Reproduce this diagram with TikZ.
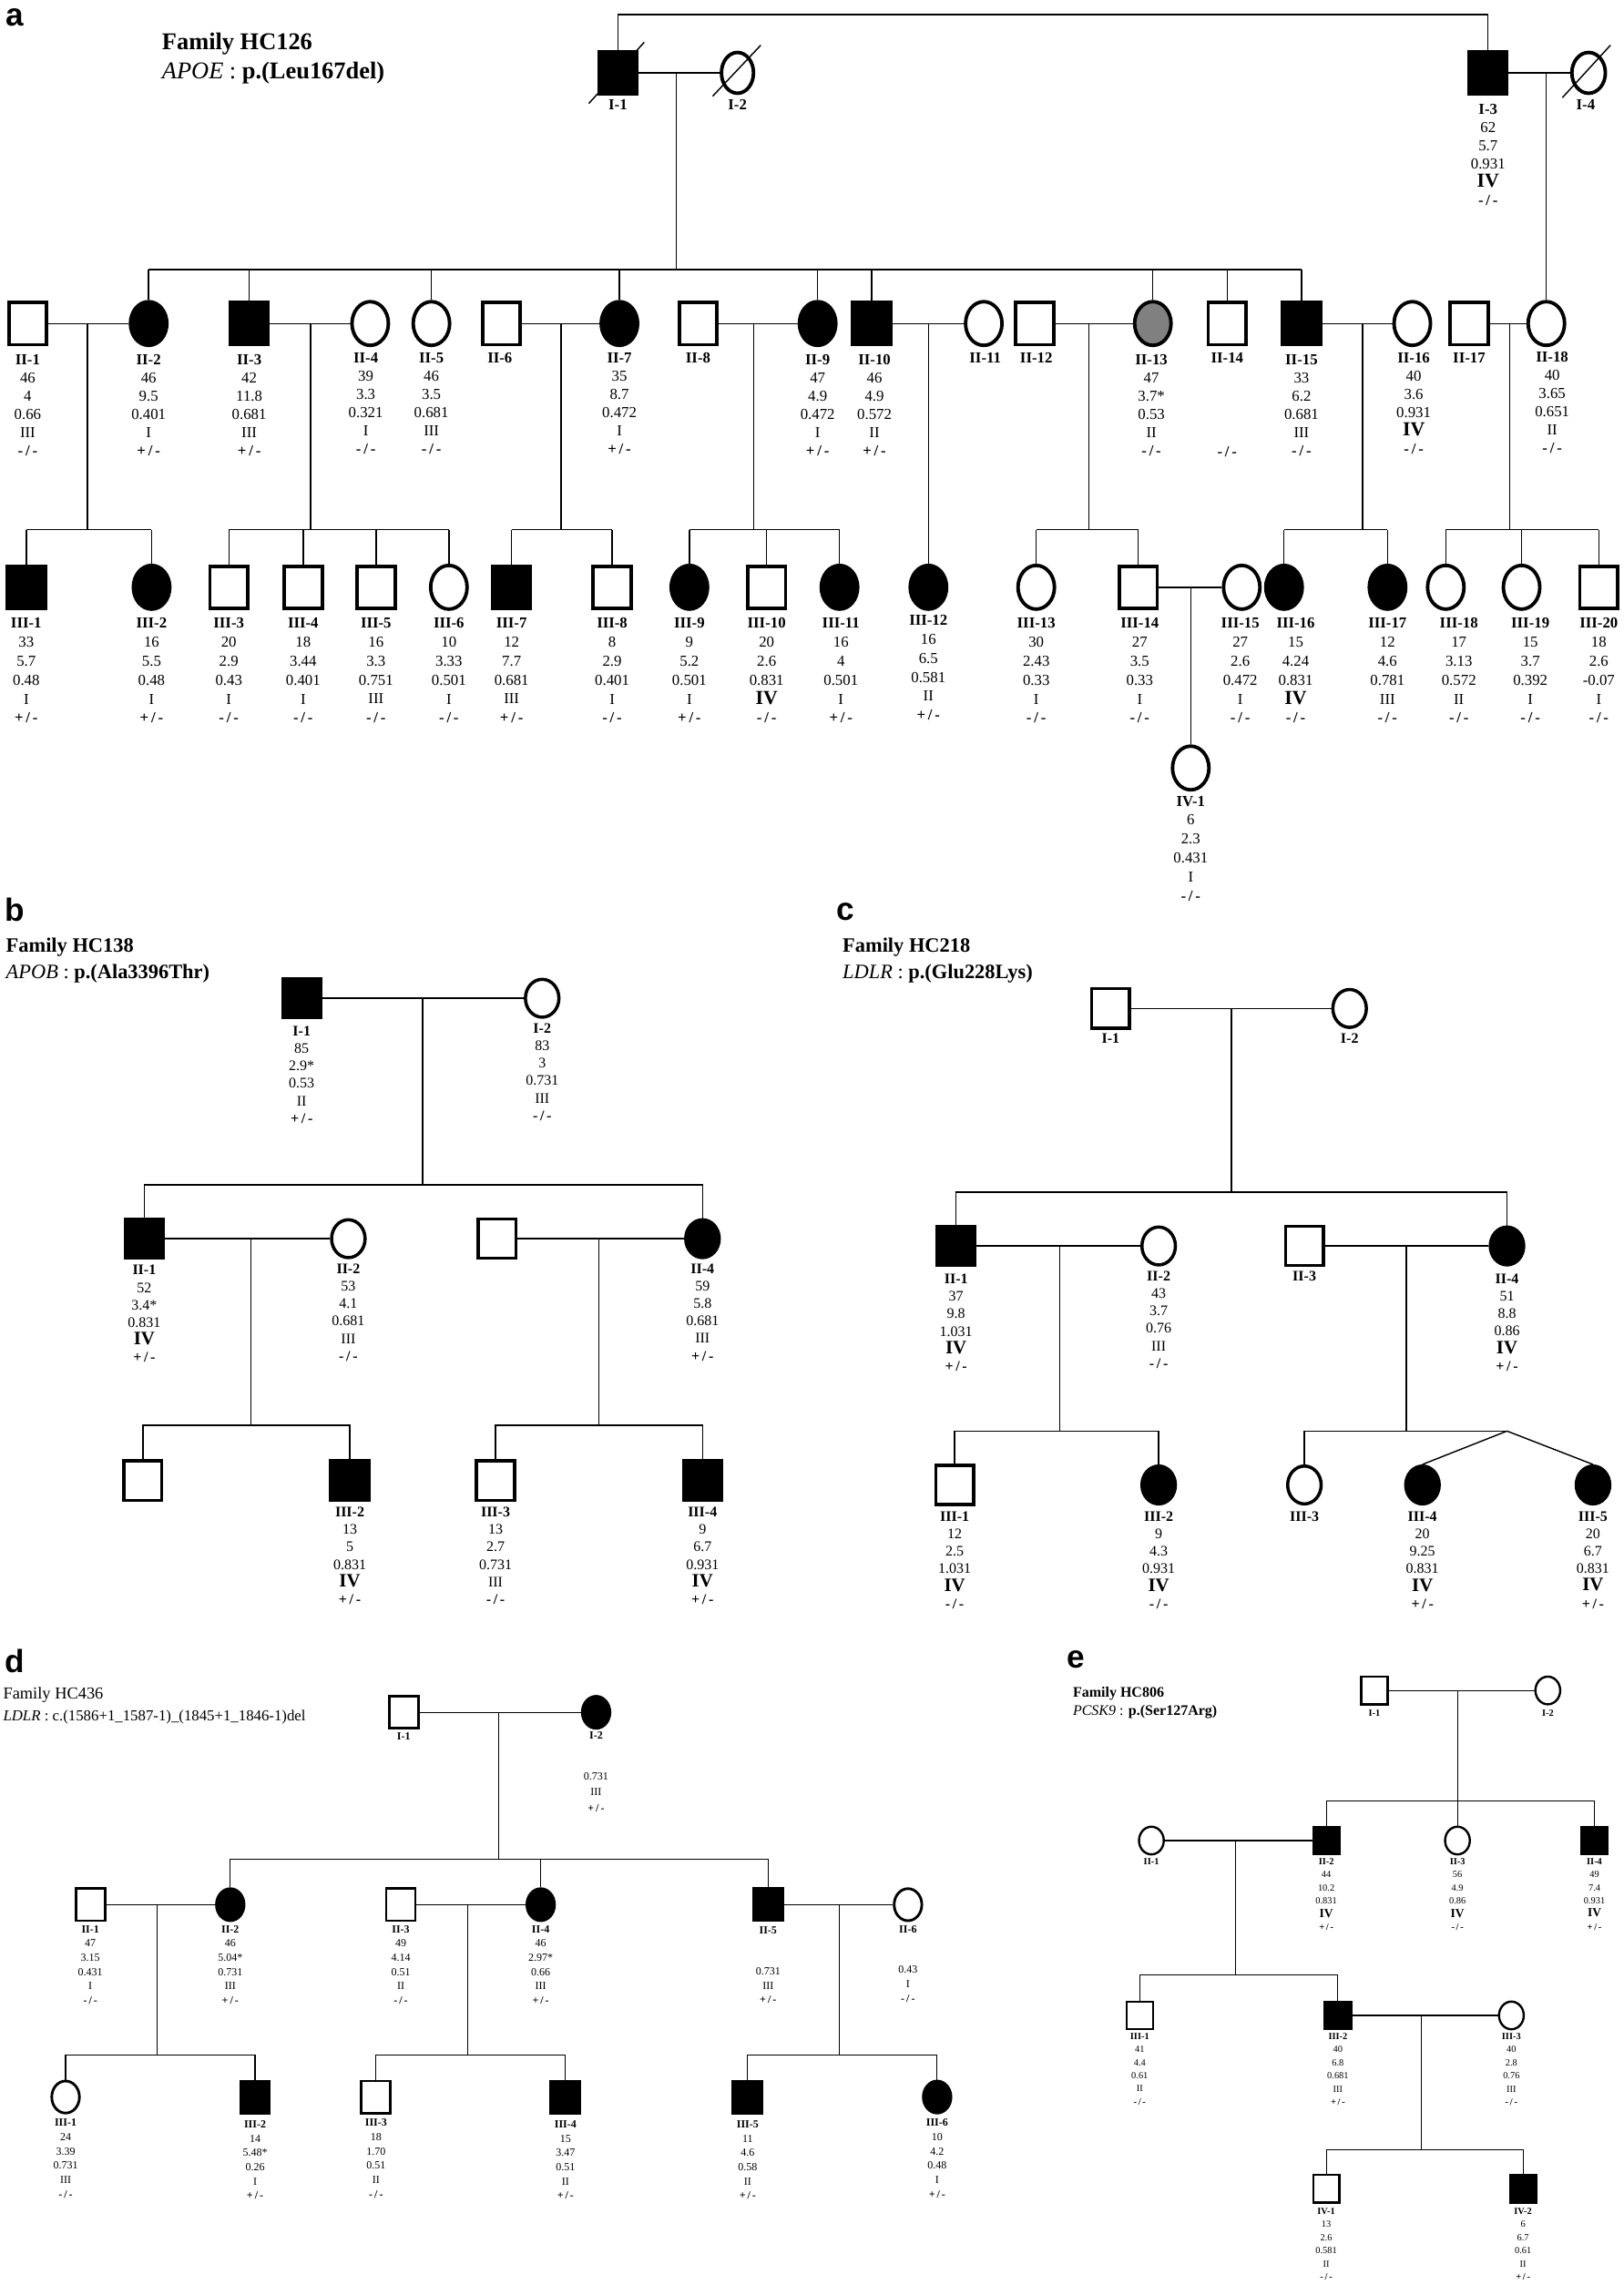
\documentclass[tikz,border=0pt]{standalone}
\usepackage{fontspec}
\setmainfont{Liberation Serif}
\newfontfamily\lettf{Liberation Sans}
\usetikzlibrary{shapes.geometric,calc}
\newcommand\lb[1]{\textbf{#1}}
\newcommand\RIV{\scalebox{1.3}{\textbf{IV}}}
\newcommand\PM{\textbf{+\,/\,-}}
\newcommand\MM{\textbf{-\,/\,-}}
\tikzset{
 ln/.style={line width=0.9pt},
 lnt/.style={line width=0.7pt},
 aff/.style={fill=black},
 sqA/.style={draw,rectangle,minimum width=26,minimum height=29,inner sep=0,line width=2.4pt},
 ciA/.style={draw,ellipse,minimum width=25,minimum height=30,inner sep=0,line width=2.4pt},
 sqB/.style={draw,rectangle,minimum width=26,minimum height=27,inner sep=0,line width=2.2pt},
 ciB/.style={draw,ellipse,minimum width=23,minimum height=26,inner sep=0,line width=2.2pt},
 sqD/.style={draw,rectangle,minimum width=20,minimum height=22,inner sep=0,line width=1.8pt},
 ciD/.style={draw,ellipse,minimum width=19,minimum height=22,inner sep=0,line width=1.8pt},
 sqE/.style={draw,rectangle,minimum width=18,minimum height=19,inner sep=0,line width=1.5pt},
 ciE/.style={draw,ellipse,minimum width=17,minimum height=19,inner sep=0,line width=1.5pt},
 tA/.style={align=center,anchor=north,inner sep=0,font=\fontsize{10.5}{12.5}\selectfont},
 tA3/.style={align=center,anchor=north,inner sep=0,font=\fontsize{10.5}{13}\selectfont},
 tB/.style={align=center,anchor=north,inner sep=0,font=\fontsize{10}{12}\selectfont},
 tD/.style={align=center,anchor=north,inner sep=0,font=\fontsize{7.5}{9.8}\selectfont},
 tE/.style={align=center,anchor=north,inner sep=0,font=\fontsize{6.5}{9}\selectfont},
 lett/.style={inner sep=0,font=\lettf\bfseries\fontsize{22}{22}\selectfont},
 hd/.style={anchor=west,inner sep=0},
}
\begin{document}
\begin{tikzpicture}[x=1pt,y=-1pt]
\useasboundingbox (0,0) rectangle (1114,1568);
% ================= Panel a =================
\node[lett] (la) at (10,12) {a};
\node[hd,font=\fontsize{16.5}{16}\selectfont\bfseries] (ah1) at (111,30) {Family HC126};
\node[hd,font=\fontsize{16.5}{16}\selectfont] (ah2) at (111,50) {\textit{APOE} : \textbf{p.(Leu167del)}};
% generation I
\node[sqA,aff] (aI1) at (424,50) {};
\node[ciA,minimum width=22,minimum height=28] (aI2) at (506,50) {};
\node[sqA,aff] (aI3) at (1021,50) {};
\node[ciA,minimum width=23,minimum height=28] (aI4) at (1090,50) {};
\draw[ln] ($(aI1)+(-20,21)$) -- ($(aI1)+(18,-21)$);
\draw[ln] ($(aI2)+(-17,16)$) -- ($(aI2)+(16,-19)$);
\draw[ln] ($(aI4)+(-18,17)$) -- ($(aI4)+(15,-19)$);
\coordinate (atop) at (0,10);
\draw[ln] (aI1.north) -- (aI1.north |- atop) -| (aI3.north);
\draw[ln] (aI1.east) -- (aI2.west);
\draw[ln] (aI3.east) -- (aI4.west);
\node[tA] (taI1) at (424,68) {\lb{I-1}};
\node[tA] (taI2) at (506,68) {\lb{I-2}};
\node[tA] (taI3) at (1021,71) {\lb{I-3}\\62\\5.7\\0.931\\\RIV\\\MM};
\node[tA] (taI4) at (1088,68) {\lb{I-4}};
% generation II
\foreach \n/\x/\s/\f in {II1/19/sqA/,II2/102/ciA/aff,II3/171/sqA/aff,II4/254/ciA/,II5/296/ciA/,II6/344/sqA/,II7/425/ciA/aff,II8/479/sqA/,II9/561/ciA/aff,II10/598/sqA/aff,II11/675/ciA/,II12/710/sqA/,II14/842/sqA/,II15/893/sqA/aff,II16/969/ciA/,II17/1008/sqA/,II18/1061/ciA/}
  \node[\s,\f] (a\n) at (\x,222) {};
\node[ciA,fill=black!50] (aII13) at (791,222) {};
\coordinate (asib) at (0,185);
\coordinate (aM1) at (464,50);
\coordinate (aM2) at (1061,50);
\draw[ln] (aM1) -- (aM1 |- asib);
\draw[ln] (aM2) -- (aII18.north);
\draw[ln] (aII2.north |- asib) -- (aII15.north |- asib);
\foreach \n in {II2,II3,II5,II7,II9,II10,II13,II14,II15}
  \draw[ln] (a\n.north) -- (a\n.north |- asib);
\foreach \l/\r in {II1/II2,II3/II4,II6/II7,II8/II9,II10/II11,II12/II13,II15/II16,II17/II18}
  \draw[ln] (a\l.east) -- (a\r.west);
\node[tA] (taII1) at (19,243) {\lb{II-1}\\46\\4\\0.66\\III\\\MM};
\node[tA] (taII2) at (102,243) {\lb{II-2}\\46\\9.5\\0.401\\I\\\PM};
\node[tA] (taII3) at (171,243) {\lb{II-3}\\42\\11.8\\0.681\\III\\\PM};
\node[tA] (taII4) at (251,242) {\lb{II-4}\\39\\3.3\\0.321\\I\\\MM};
\node[tA] (taII5) at (296,242) {\lb{II-5}\\46\\3.5\\0.681\\III\\\MM};
\node[tA] (taII6) at (343,242) {\lb{II-6}};
\node[tA] (taII7) at (425,242) {\lb{II-7}\\35\\8.7\\0.472\\I\\\PM};
\node[tA] (taII8) at (479,242) {\lb{II-8}};
\node[tA] (taII9) at (561,243) {\lb{II-9}\\47\\4.9\\0.472\\I\\\PM};
\node[tA] (taII10) at (600,243) {\lb{II-10}\\46\\4.9\\0.572\\II\\\PM};
\node[tA] (taII11) at (676,242) {\lb{II-11}};
\node[tA] (taII12) at (711,242) {\lb{II-12}};
\node[tA] (taII13) at (790,243) {\lb{II-13}\\47\\3.7*\\0.53\\II\\\MM};
\node[tA] (taII14) at (842,242) {\lb{II-14}};
\node[tA] (taII14g) at (842,306) {\MM};
\node[tA] (taII15) at (893,243) {\lb{II-15}\\33\\6.2\\0.681\\III\\\MM};
\node[tA] (taII16) at (970,242) {\lb{II-16}\\40\\3.6\\0.931\\\RIV\\\MM};
\node[tA] (taII17) at (1008,242) {\lb{II-17}};
\node[tA] (taII18) at (1065,241) {\lb{II-18}\\40\\3.65\\0.651\\II\\\MM};
% generation III
\foreach \n/\x/\s/\f in {III1/18/sqA/aff,III2/104/ciA/aff,III3/157/sqA/,III4/208/sqA/,III5/258/sqA/,III6/308/ciA/,III7/351/sqA/aff,III8/420/sqA/,III9/473/ciA/aff,III10/526/sqA/,III11/576/ciA/aff,III12/637/ciA/aff,III13/711/ciA/,III14/781/sqA/,III15/852/ciA/,III16/881/ciA/aff,III17/952/ciA/aff,III18/992/ciA/,III19/1044/ciA/,III20/1097/sqA/}
  \node[\s,\f] (a\n) at (\x,403) {};
\coordinate (asib3) at (0,363.5);
\foreach \mx/\l/\r in {60/III1/III2,213/III3/III6,385/III7/III8,517/III9/III11,747/III13/III14,935/III16/III17,1036/III18/III20}{
  \draw[ln] (\mx,222) -- (\mx,363.5);
  \draw[ln] (a\l.north |- asib3) -- (a\r.north |- asib3);
}
\foreach \n in {III1,III2,III3,III4,III5,III6,III7,III8,III9,III10,III11,III13,III14,III16,III17,III18,III19,III20}
  \draw[ln] (a\n.north) -- (a\n.north |- asib3);
\coordinate (aM3) at (637,222);
\draw[ln] (aM3) -- (aIII12.north);
\draw[ln] (aIII14.east) -- (aIII15.west);
\coordinate (aM4) at (817,403);
% generation IV
\node[ciA] (aIV1) at (817,527) {};
\draw[ln] (aM4) -- (aIV1.north);
\node[tA3] (taIII1) at (18,424) {\lb{III-1}\\33\\5.7\\0.48\\I\\\PM};
\node[tA3] (taIII2) at (104,424) {\lb{III-2}\\16\\5.5\\0.48\\I\\\PM};
\node[tA3] (taIII3) at (157,424) {\lb{III-3}\\20\\2.9\\0.43\\I\\\MM};
\node[tA3] (taIII4) at (208,424) {\lb{III-4}\\18\\3.44\\0.401\\I\\\MM};
\node[tA3] (taIII5) at (258,424) {\lb{III-5}\\16\\3.3\\0.751\\III\\\MM};
\node[tA3] (taIII6) at (308,424) {\lb{III-6}\\10\\3.33\\0.501\\I\\\MM};
\node[tA3] (taIII7) at (351,424) {\lb{III-7}\\12\\7.7\\0.681\\III\\\PM};
\node[tA3] (taIII8) at (420,424) {\lb{III-8}\\8\\2.9\\0.401\\I\\\MM};
\node[tA3] (taIII9) at (473,424) {\lb{III-9}\\9\\5.2\\0.501\\I\\\PM};
\node[tA3] (taIII10) at (526,424) {\lb{III-10}\\20\\2.6\\0.831\\\RIV\\\MM};
\node[tA3] (taIII11) at (577,424) {\lb{III-11}\\16\\4\\0.501\\I\\\PM};
\node[tA3] (taIII12) at (637,422) {\lb{III-12}\\16\\6.5\\0.581\\II\\\PM};
\node[tA3] (taIII13) at (711,424) {\lb{III-13}\\30\\2.43\\0.33\\I\\\MM};
\node[tA3] (taIII14) at (782,424) {\lb{III-14}\\27\\3.5\\0.33\\I\\\MM};
\node[tA3] (taIII15) at (851,424) {\lb{III-15}\\27\\2.6\\0.472\\I\\\MM};
\node[tA3] (taIII16) at (889,424) {\lb{III-16}\\15\\4.24\\0.831\\\RIV\\\MM};
\node[tA3] (taIII17) at (952,424) {\lb{III-17}\\12\\4.6\\0.781\\III\\\MM};
\node[tA3] (taIII18) at (1001,424) {\lb{III-18}\\17\\3.13\\0.572\\II\\\MM};
\node[tA3] (taIII19) at (1050,424) {\lb{III-19}\\15\\3.7\\0.392\\I\\\MM};
\node[tA3] (taIII20) at (1097,424) {\lb{III-20}\\18\\2.6\\-0.07\\I\\\MM};
\node[tA3] (taIV1) at (817,546) {\lb{IV-1}\\6\\2.3\\0.431\\I\\\MM};
% ================= Panel b =================
\node[lett] (lb) at (10,624) {b};
\node[hd,font=\fontsize{14}{14}\selectfont\bfseries] (bh1) at (4,650) {Family HC138};
\node[hd,font=\fontsize{14}{14}\selectfont] (bh2) at (4,668) {\textit{APOB} : \textbf{p.(Ala3396Thr)}};
\node[sqB,aff] (bI1) at (207,685) {};
\node[ciB] (bI2) at (372,685) {};
\draw[ln] (bI1.east) -- (bI2.west);
\coordinate (bsib) at (0,813);
\coordinate (bM1) at (290,685);
\draw[ln] (bM1) -- (bM1 |- bsib);
\node[sqB,aff] (bII1) at (99,850) {};
\node[ciB] (bII2) at (239,850) {};
\node[sqB] (bII3) at (341,850) {};
\node[ciB,aff] (bII4) at (482,850) {};
\draw[ln] (bII1.north) |- (bII4.north |- bsib) -- (bII4.north);
\draw[ln] (bII1.east) -- (bII2.west);
\draw[ln] (bII3.east) -- (bII4.west);
\coordinate (bsib3) at (0,978);
\coordinate (bM2) at (172,850);
\coordinate (bM3) at (411,850);
\draw[ln] (bM2) -- (bM2 |- bsib3);
\draw[ln] (bM3) -- (bM3 |- bsib3);
\node[sqB] (bIII1) at (98,1016) {};
\node[sqB,aff] (bIII2) at (240,1016) {};
\node[sqB] (bIII3) at (340,1016) {};
\node[sqB,aff] (bIII4) at (482,1016) {};
\draw[ln] (bIII1.north) |- (bIII2.north |- bsib3) -- (bIII2.north);
\draw[ln] (bIII3.north) |- (bIII4.north |- bsib3) -- (bIII4.north);
\node[tB] (tbI1) at (207,704) {\lb{I-1}\\85\\2.9*\\0.53\\II\\\PM};
\node[tB] (tbI2) at (372,702) {\lb{I-2}\\83\\3\\0.731\\III\\\MM};
\node[tB] (tbII1) at (99,868) {\lb{II-1}\\52\\3.4*\\0.831\\\RIV\\\PM};
\node[tB] (tbII2) at (239,867) {\lb{II-2}\\53\\4.1\\0.681\\III\\\MM};
\node[tB] (tbII4) at (482,867) {\lb{II-4}\\59\\5.8\\0.681\\III\\\PM};
\node[tB] (tbIII2) at (240,1034) {\lb{III-2}\\13\\5\\0.831\\\RIV\\\PM};
\node[tB] (tbIII3) at (340,1034) {\lb{III-3}\\13\\2.7\\0.731\\III\\\MM};
\node[tB] (tbIII4) at (482,1034) {\lb{III-4}\\9\\6.7\\0.931\\\RIV\\\PM};
% ================= Panel c =================
\node[lett] (lc) at (580,626) {c};
\node[hd,font=\fontsize{14}{14}\selectfont\bfseries] (ch1) at (578,650) {Family HC218};
\node[hd,font=\fontsize{14}{14}\selectfont] (ch2) at (578,668) {\textit{LDLR} : \textbf{p.(Glu228Lys)}};
\node[sqB] (cI1) at (762,692) {};
\node[ciB] (cI2) at (926,692) {};
\draw[ln] (cI1.east) -- (cI2.west);
\coordinate (csib) at (0,818);
\coordinate (cM1) at (845,692);
\draw[ln] (cM1) -- (cM1 |- csib);
\node[sqB,aff] (cII1) at (656,855) {};
\node[ciB] (cII2) at (795,855) {};
\node[sqB] (cII3) at (895,855) {};
\node[ciB,aff] (cII4) at (1034,855) {};
\draw[ln] (cII1.north) |- (cII4.north |- csib) -- (cII4.north);
\draw[ln] (cII1.east) -- (cII2.west);
\draw[ln] (cII3.east) -- (cII4.west);
\coordinate (csib3) at (0,982);
\coordinate (cM2) at (727,855);
\coordinate (cM3) at (965,855);
\draw[ln] (cM2) -- (cM2 |- csib3);
\draw[ln] (cM3) -- (cM3 |- csib3);
\node[sqB] (cIII1) at (655,1019) {};
\node[ciB,aff] (cIII2) at (795,1019) {};
\node[ciB] (cIII3) at (895,1019) {};
\node[ciB,aff] (cIII4) at (976,1019) {};
\node[ciB,aff] (cIII5) at (1093,1019) {};
\coordinate (ctw) at (1034,982);
\draw[ln] (cIII1.north) |- (cIII2.north |- csib3) -- (cIII2.north);
\draw[ln] (cIII3.north) |- (ctw);
\draw[ln] (ctw) -- (cIII4.north);
\draw[ln] (ctw) -- (cIII5.north);
\node[tB] (tcI1) at (762,709) {\lb{I-1}};
\node[tB] (tcI2) at (926,709) {\lb{I-2}};
\node[tB] (tcII1) at (656,874) {\lb{II-1}\\37\\9.8\\1.031\\\RIV\\\PM};
\node[tB] (tcII2) at (795,872) {\lb{II-2}\\43\\3.7\\0.76\\III\\\MM};
\node[tB] (tcII3) at (895,872) {\lb{II-3}};
\node[tB] (tcII4) at (1034,874) {\lb{II-4}\\51\\8.8\\0.86\\\RIV\\\PM};
\node[tB] (tcIII1) at (655,1037) {\lb{III-1}\\12\\2.5\\1.031\\\RIV\\\MM};
\node[tB] (tcIII2) at (795,1037) {\lb{III-2}\\9\\4.3\\0.931\\\RIV\\\MM};
\node[tB] (tcIII3) at (895,1037) {\lb{III-3}};
\node[tB] (tcIII4) at (976,1037) {\lb{III-4}\\20\\9.25\\0.831\\\RIV\\\PM};
\node[tB] (tcIII5) at (1093,1037) {\lb{III-5}\\20\\6.7\\0.831\\\RIV\\\PM};
% ================= Panel d =================
\node[lett] (ld) at (10,1140) {d};
\node[hd,font=\fontsize{11.5}{11}\selectfont] (dh1) at (2,1163) {Family HC436};
\node[hd,font=\fontsize{10.5}{11}\selectfont] (dh2) at (2,1178) {\textit{LDLR} : c.(1586+1\_1587-1)\_(1845+1\_1846-1)del};
\node[sqD] (dI1) at (277,1175) {};
\node[ciD,aff] (dI2) at (409,1175) {};
\draw[lnt] (dI1.east) -- (dI2.west);
\coordinate (dsib) at (0,1276);
\coordinate (dM1) at (342,1175);
\draw[lnt] (dM1) -- (dM1 |- dsib);
\node[sqD] (dII1) at (62,1307) {};
\node[ciD,aff] (dII2) at (158,1307) {};
\node[sqD] (dII3) at (275,1307) {};
\node[ciD,aff] (dII4) at (371,1307) {};
\node[sqD,aff] (dII5) at (527,1307) {};
\node[ciD] (dII6) at (623,1307) {};
\draw[lnt] (dII2.north) |- (dII5.north |- dsib) -- (dII5.north);
\draw[lnt] (dII4.north) -- (dII4.north |- dsib);
\foreach \l/\r in {II1/II2,II3/II4,II5/II6} \draw[lnt] (d\l.east) -- (d\r.west);
\coordinate (dsib3) at (0,1410);
\foreach \mx in {108,321,576} \draw[lnt] (\mx,1307) -- (\mx,1410);
\node[ciD] (dIII1) at (45,1439) {};
\node[sqD,aff] (dIII2) at (175,1439) {};
\node[sqD] (dIII3) at (258,1439) {};
\node[sqD,aff] (dIII4) at (388,1439) {};
\node[sqD,aff] (dIII5) at (513,1439) {};
\node[ciD,aff] (dIII6) at (643,1439) {};
\foreach \l/\r in {III1/III2,III3/III4,III5/III6}
  \draw[lnt] (d\l.north) |- (d\r.north |- dsib3) -- (d\r.north);
\node[tD] (tdI1) at (277,1189) {\lb{I-1}};
\node[tD] (tdI2) at (409,1188) {\lb{I-2}};
\node[tD,font=\fontsize{7.5}{11}\selectfont] (tdI2b) at (409,1216) {0.731\\III\\\PM};
\node[tD] (tdII1) at (62,1321) {\lb{II-1}\\47\\3.15\\0.431\\I\\\MM};
\node[tD] (tdII2) at (158,1321) {\lb{II-2}\\46\\5.04*\\0.731\\III\\\PM};
\node[tD] (tdII3) at (275,1321) {\lb{II-3}\\49\\4.14\\0.51\\II\\\MM};
\node[tD] (tdII4) at (371,1321) {\lb{II-4}\\46\\2.97*\\0.66\\III\\\PM};
\node[tD] (tdII5) at (527,1322) {\lb{II-5}};
\node[tD] (tdII5b) at (527,1350) {0.731\\III\\\PM};
\node[tD] (tdII6) at (623,1321) {\lb{II-6}};
\node[tD] (tdII6b) at (623,1349) {0.43\\I\\\MM};
\node[tD] (tdIII1) at (45,1454) {\lb{III-1}\\24\\3.39\\0.731\\III\\\MM};
\node[tD] (tdIII2) at (175,1455) {\lb{III-2}\\14\\5.48*\\0.26\\I\\\PM};
\node[tD] (tdIII3) at (258,1454) {\lb{III-3}\\18\\1.70\\0.51\\II\\\MM};
\node[tD] (tdIII4) at (388,1455) {\lb{III-4}\\15\\3.47\\0.51\\II\\\PM};
\node[tD] (tdIII5) at (513,1455) {\lb{III-5}\\11\\4.6\\0.58\\II\\\PM};
\node[tD] (tdIII6) at (643,1454) {\lb{III-6}\\10\\4.2\\0.48\\I\\\PM};
% ================= Panel e =================
\node[lett] (le) at (738,1139) {e};
\node[hd,font=\fontsize{10}{10}\selectfont\bfseries] (eh1) at (736,1162) {Family HC806};
\node[hd,font=\fontsize{10}{10}\selectfont] (eh2) at (736,1175) {\textit{PCSK9} : \textbf{p.(Ser127Arg)}};
\node[sqE] (eI1) at (943,1160) {};
\node[ciE] (eI2) at (1062,1160) {};
\draw[lnt] (eI1.east) -- (eI2.west);
\coordinate (esib) at (0,1236);
\coordinate (eM1) at (1000,1160);
\node[ciE] (eII1) at (790,1263) {};
\node[sqE,aff] (eII2) at (910,1263) {};
\node[ciE] (eII3) at (1000,1263) {};
\node[sqE,aff] (eII4) at (1094,1263) {};
\draw[lnt] (eM1) -- (eII3.north);
\draw[lnt] (eII2.north) |- (eII4.north |- esib) -- (eII4.north);
\draw[lnt] (eII1.east) -- (eII2.west);
\coordinate (esib3) at (0,1355);
\coordinate (eM2) at (848,1263);
\draw[lnt] (eM2) -- (eM2 |- esib3);
\node[sqE] (eIII1) at (782,1383) {};
\node[sqE,aff] (eIII2) at (918,1383) {};
\node[ciE] (eIII3) at (1037,1383) {};
\draw[lnt] (eIII1.north) |- (eIII2.north |- esib3) -- (eIII2.north);
\draw[lnt] (eIII2.east) -- (eIII3.west);
\coordinate (esib4) at (0,1475);
\coordinate (eM3) at (975,1383);
\draw[lnt] (eM3) -- (eM3 |- esib4);
\node[sqE] (eIV1) at (910,1502) {};
\node[sqE,aff] (eIV2) at (1045,1502) {};
\draw[lnt] (eIV1.north) |- (eIV2.north |- esib4) -- (eIV2.north);
\node[tE] (teI1) at (943,1173) {\lb{I-1}};
\node[tE] (teI2) at (1062,1173) {\lb{I-2}};
\node[tE] (teII1) at (790,1275) {\lb{II-1}};
\node[tE] (teII2) at (910,1275) {\lb{II-2}\\44\\10.2\\0.831\\\RIV\\\PM};
\node[tE] (teII3) at (1000,1275) {\lb{II-3}\\56\\4.9\\0.86\\\RIV\\\MM};
\node[tE] (teII4) at (1094,1275) {\lb{II-4}\\49\\7.4\\0.931\\\RIV\\\PM};
\node[tE] (teIII1) at (782,1395) {\lb{III-1}\\41\\4.4\\0.61\\II\\\MM};
\node[tE] (teIII2) at (918,1395) {\lb{III-2}\\40\\6.8\\0.681\\III\\\PM};
\node[tE] (teIII3) at (1037,1395) {\lb{III-3}\\40\\2.8\\0.76\\III\\\MM};
\node[tE] (teIV1) at (910,1515) {\lb{IV-1}\\13\\2.6\\0.581\\II\\\MM};
\node[tE] (teIV2) at (1045,1515) {\lb{IV-2}\\6\\6.7\\0.61\\II\\\PM};
\end{tikzpicture}
\end{document}
